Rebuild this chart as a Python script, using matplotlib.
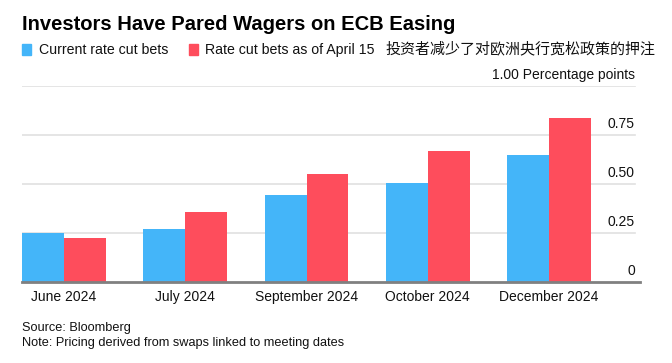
import matplotlib
matplotlib.use("Agg")
import matplotlib.pyplot as plt
import numpy as np

categories = ["June 2024", "July 2024", "September 2024", "October 2024", "December 2024"]
current_bets = [0.248, 0.272, 0.443, 0.506, 0.646]
april15_bets = [0.226, 0.355, 0.551, 0.670, 0.835]
ytick_vals = [0, 0.25, 0.50, 0.75, 1.00]
ytick_labels = ["0", "0.25", "0.50", "0.75", "1.00 Percentage points"]

title = "Investors Have Pared Wagers on ECB Easing"
legend_labels = ["Current rate cut bets", "Rate cut bets as of April 15"]
subtitle_cn = "投资者减少了对欧洲央行宽松政策的押注"
footer = ["Source: Bloomberg", "Note: Pricing derived from swaps linked to meeting dates"]

BLUE = "#44b5f9"
RED = "#fe4d5c"

W, H = 672, 363
fig = plt.figure(figsize=(W / 100, H / 100), dpi=100)
plt.rcParams['font.family'] = ['Liberation Sans', 'DejaVu Sans']

def fx(px):
    return px / W

def fy(py):
    return 1 - py / H

ax_left, ax_right, ax_top, ax_bottom = 22, 640, 86, 282
ax = fig.add_axes([fx(ax_left), fy(ax_bottom), (ax_right - ax_left) / W, (ax_bottom - ax_top) / H])

x = np.arange(len(categories))
bw = 0.346
ax.bar(x - bw / 2, current_bets, width=bw, color=BLUE, zorder=3)
ax.bar(x + bw / 2, april15_bets, width=bw, color=RED, zorder=3)
ax.set_xlim(-0.346, 4.75)
ax.set_ylim(0, 1.0)

for s in ["top", "right", "left"]:
    ax.spines[s].set_visible(False)
ax.spines["bottom"].set_color("#808080")
ax.spines["bottom"].set_linewidth(2)
ax.spines["bottom"].set_zorder(4)

ax.set_yticks([])
for v in ytick_vals[1:]:
    ax.axhline(v, xmin=0, xmax=(635 - ax_left) / (ax_right - ax_left), color="#e0e0e0", lw=1.2, zorder=1)
for v, lab in zip(ytick_vals, ytick_labels):
    ypix = ax_bottom - v * (ax_bottom - ax_top)
    fig.text(fx(635), fy(ypix - 7), lab, ha="right", va="baseline", fontsize=10, color="#111111")

ax.set_xticks(x)
ax.set_xticklabels(categories, fontsize=10, color="#111111")
ax.tick_params(axis="x", length=0, pad=6)

fig.text(fx(22), fy(30), title, fontsize=14.5, fontweight="bold", color="#000000", va="baseline")

fig.patches.append(matplotlib.patches.Rectangle((fx(22), fy(55)), fx(9), 11 / H, color=BLUE, transform=fig.transFigure))
fig.text(fx(39), fy(54), legend_labels[0], fontsize=10.2, va="baseline", color="#111111")
fig.patches.append(matplotlib.patches.Rectangle((fx(189), fy(55)), fx(9), 11 / H, color=RED, transform=fig.transFigure))
fig.text(fx(205), fy(54), legend_labels[1], fontsize=10.2, va="baseline", color="#111111")
fig.text(fx(385), fy(53), subtitle_cn, fontsize=10.8, va="baseline", color="#111111",
         family=['Noto Sans CJK SC', 'DejaVu Sans'])

fig.text(fx(22), fy(331), footer[0], fontsize=9.2, va="baseline", color="#111111")
fig.text(fx(22), fy(346), footer[1], fontsize=9.2, va="baseline", color="#111111")

fig.savefig("out.png", dpi=100, facecolor="white")
